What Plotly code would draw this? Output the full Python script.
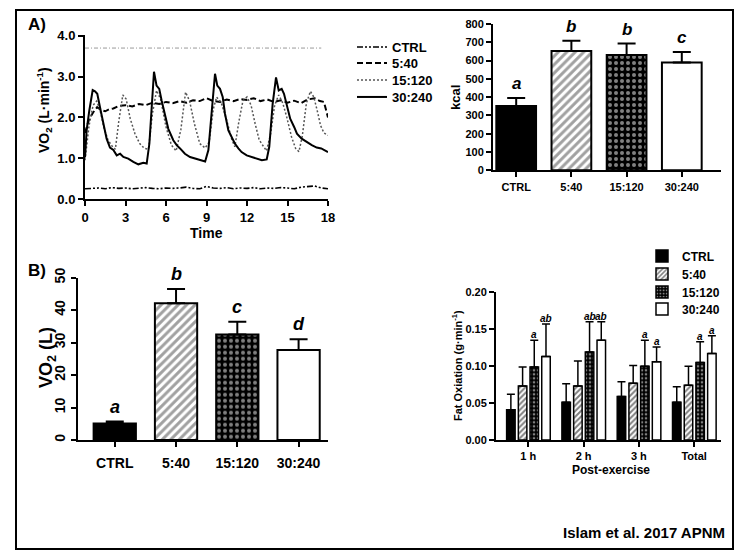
import plotly.graph_objects as go

W, H = 738, 560
FONT = "Liberation Sans"

# ---- Panel A (left): VO2 time course, L/min ----
time_ctrl = [0, 0.5, 1, 1.5, 2, 2.5, 3, 3.5, 4, 4.5, 5, 5.5, 6, 6.5, 7, 7.5, 8, 8.5, 9,
             9.5, 10, 10.5, 11, 11.5, 12, 12.5, 13, 13.5, 14, 14.5, 15, 15.5, 16, 16.5,
             17, 17.5, 18]
vo2_ctrl = [0.25, 0.26, 0.27, 0.25, 0.28, 0.26, 0.27, 0.25, 0.27, 0.28, 0.26, 0.25, 0.27,
            0.26, 0.27, 0.29, 0.26, 0.25, 0.31, 0.27, 0.26, 0.28, 0.25, 0.27, 0.26, 0.28,
            0.25, 0.27, 0.26, 0.28, 0.27, 0.25, 0.29, 0.30, 0.32, 0.27, 0.25]

time_5_40 = [0, 0.3, 0.6, 0.9, 1.2, 1.5, 1.8, 2.1, 2.5, 3.0, 3.5, 4.0, 4.5, 5.0, 5.5, 6.0,
             6.5, 7.0, 7.5, 8.0, 8.5, 9.0, 9.5, 10.0, 10.5, 11.0, 11.5, 12.0, 12.5, 13.0,
             13.5, 14.0, 14.5, 15.0, 15.5, 16.0, 16.5, 17.0, 17.4, 17.7, 18.0]
vo2_5_40 = [1.62, 1.95, 2.12, 2.25, 2.18, 2.15, 2.2, 2.22, 2.28, 2.3, 2.27, 2.33, 2.3, 2.36,
            2.33, 2.38, 2.35, 2.4, 2.36, 2.42, 2.4, 2.47, 2.4, 2.38, 2.44, 2.4, 2.45, 2.43,
            2.47, 2.4, 2.44, 2.38, 2.42, 2.36, 2.41, 2.35, 2.44, 2.47, 2.4, 2.38, 2.0]

time_15_120 = [0, 0.3, 0.6, 0.86, 1.1, 1.4, 1.7, 2.0, 2.25, 2.5, 2.8, 3.05, 3.35, 3.7, 4.05,
               4.4, 4.7, 5.0, 5.3, 5.6, 6.0, 6.4, 6.75, 7.1, 7.45, 7.75, 8.1, 8.5, 8.9, 9.2,
               9.5, 9.75, 10.1, 10.5, 10.85, 11.1, 11.4, 11.7, 12.0, 12.3, 12.6, 12.9, 13.2,
               13.45, 13.75, 14.05, 14.35, 14.65, 14.95, 15.3, 15.6, 15.85, 16.1, 16.4,
               16.7, 16.95, 17.2, 17.45, 17.7, 18.0]
vo2_15_120 = [0.95, 1.8, 2.3, 2.4, 2.2, 1.75, 1.45, 1.3, 1.22, 1.9, 2.55, 2.45, 1.97, 1.6,
              1.36, 1.24, 1.22, 2.1, 2.66, 2.45, 1.77, 1.32, 1.18, 1.7, 2.62, 2.4, 1.85,
              1.36, 1.25, 1.4, 2.2, 2.5, 2.35, 1.93, 1.48, 1.28, 1.9, 2.41, 2.5, 2.3, 1.85,
              1.45, 1.3, 1.18, 1.6, 2.3, 2.55, 2.35, 2.0, 1.52, 1.24, 1.16, 1.55, 2.35,
              2.64, 2.5, 2.17, 1.8, 1.62, 1.56]

time_30_240 = [0, 0.12, 0.32, 0.57, 0.74, 0.91, 1.11, 1.36, 1.6, 1.85, 2.1, 2.35, 2.6, 2.84,
               3.2, 3.58, 3.95, 4.32, 4.57, 4.77, 4.94, 5.11, 5.3, 5.5, 5.68, 5.93, 6.17,
               6.54, 6.79, 7.04, 7.4, 7.78, 8.15, 8.5, 8.9, 9.14, 9.38, 9.63, 9.8, 10.0,
               10.2, 10.37, 10.62, 10.86, 11.1, 11.36, 11.6, 11.98, 12.35, 12.7, 13.1,
               13.46, 13.65, 13.9, 14.15, 14.35, 14.57, 14.74, 14.99, 15.2, 15.5, 15.7,
               16.05, 16.4, 16.8, 17.16, 17.5, 18.0]
vo2_30_240 = [1.02, 1.68, 2.17, 2.67, 2.64, 2.58, 2.25, 1.85, 1.48, 1.26, 1.2, 1.07, 1.11,
              1.03, 0.99, 0.91, 0.85, 0.89, 0.87, 1.36, 2.41, 3.12, 2.78, 2.7, 2.41, 2.09,
              1.72, 1.44, 1.32, 1.24, 1.11, 1.03, 0.99, 0.97, 0.92, 1.2, 2.17, 3.07, 2.78,
              2.7, 2.5, 2.09, 1.68, 1.52, 1.36, 1.24, 1.15, 1.07, 1.03, 0.99, 0.95, 0.97,
              1.28, 2.33, 2.98, 2.66, 2.7, 2.58, 2.25, 1.97, 1.76, 1.6, 1.48, 1.4, 1.32,
              1.26, 1.24, 1.15]

vo2max_time = [0, 17.5]
vo2max_level = [3.7, 3.7]

# ---- bar panels ----
groups = ["CTRL", "5:40", "15:120", "30:240"]

kcal_mean = [351, 652, 630, 590]
kcal_err = [45, 56, 63, 57]
kcal_letters = ["a", "b", "b", "c"]

vo2_total_mean = [5.1, 42.1, 32.5, 27.7]
vo2_total_err = [0.6, 4.4, 3.9, 3.3]
vo2_total_letters = ["a", "b", "c", "d"]

fat_periods = ["1 h", "2 h", "3 h", "Total"]
fat_mean = {
    "CTRL": [0.041, 0.051, 0.059, 0.051],
    "5:40": [0.073, 0.073, 0.077, 0.074],
    "15:120": [0.099, 0.119, 0.100, 0.105],
    "30:240": [0.113, 0.135, 0.106, 0.117],
}
fat_err = {
    "CTRL": [0.021, 0.025, 0.020, 0.021],
    "5:40": [0.026, 0.034, 0.024, 0.026],
    "15:120": [0.036, 0.041, 0.035, 0.028],
    "30:240": [0.044, 0.025, 0.020, 0.024],
}
fat_letters = {
    "15:120": ["a", "ab", "a", "a"],
    "30:240": ["ab", "ab", "a", "a"],
}

# bar fills per group: (background, pattern shape, pattern colour, solidity)
fills = {"CTRL": ("black", "", "black", 0.3),
         "5:40": ("white", "/", "black", 0.5),
         "15:120": ("black", ".", "white", 0.35),
         "30:240": ("white", "", "black", 0.3)}

# one single-entry legend per row so the row pitch matches the figure
line_legends = ["legend", "legend3", "legend4", "legend5"]
line_rows = [47, 63, 80, 97]
bar_legends = ["legend2", "legend6", "legend7", "legend8"]
bar_rows = [256, 274, 292, 309]


def dom_x(p0, p1):
    return [p0 / W, p1 / W]


def dom_y(top, bottom):
    return [1 - bottom / H, 1 - top / H]


def bold(size):
    return dict(family=FONT, size=size, color="black", weight="bold")


def bar_marker(line_w, size):
    return dict(color=[fills[g][0] for g in groups], line=dict(color="black", width=line_w),
                pattern=dict(shape=[fills[g][1] for g in groups],
                             fgcolor=[fills[g][2] for g in groups],
                             bgcolor=[fills[g][0] for g in groups],
                             size=size, solidity=[fills[g][3] for g in groups]))


fig = go.Figure()

# VO2 time course
fig.add_trace(go.Scatter(x=vo2max_time, y=vo2max_level, mode="lines", showlegend=False,
                         line=dict(color="#9a9a9a", width=1, dash="4px,2px,1px,2px"),
                         hoverinfo="skip"))
line_styles = [
    ("CTRL", time_ctrl, vo2_ctrl, dict(color="black", width=1.6, dash="6px,2px,2px,2px,2px,2px")),
    ("5:40", time_5_40, vo2_5_40, dict(color="black", width=2, dash="6px,3px")),
    ("15:120", time_15_120, vo2_15_120, dict(color="#555555", width=1.5, dash="2px,2px")),
    ("30:240", time_30_240, vo2_30_240, dict(color="black", width=2)),
]
for (name, tx, ty, ln), lg in zip(line_styles, line_legends):
    fig.add_trace(go.Scatter(x=tx, y=ty, mode="lines", name=name, line=ln, legend=lg))

# kcal bars
fig.add_trace(go.Bar(
    x=groups, y=kcal_mean, width=0.72, showlegend=False, xaxis="x2", yaxis="y2",
    marker=bar_marker(2, 6),
    error_y=dict(type="data", symmetric=False, array=kcal_err, arrayminus=[0] * 4,
                 color="black", thickness=2, width=9),
))

# total VO2 bars
fig.add_trace(go.Bar(
    x=groups, y=vo2_total_mean, width=0.69, showlegend=False, xaxis="x3", yaxis="y3",
    marker=bar_marker(2, 6),
    error_y=dict(type="data", symmetric=False, array=vo2_total_err, arrayminus=[0] * 4,
                 color="black", thickness=2, width=9),
))

# fat oxidation grouped bars
bar_w = 0.154
bar_offsets = [-0.392, -0.180, 0.031, 0.243]
for g, off, lg in zip(groups, bar_offsets, bar_legends):
    bg, shape, fg, solid = fills[g]
    fig.add_trace(go.Bar(
        x=fat_periods, y=fat_mean[g], name=g, width=bar_w, offset=off,
        xaxis="x4", yaxis="y4", legend=lg,
        marker=dict(color=bg, line=dict(color="black", width=1.5),
                    pattern=dict(shape=shape, fgcolor=fg, bgcolor=bg, size=4, solidity=solid)),
        error_y=dict(type="data", symmetric=False, array=fat_err[g],
                     arrayminus=[0] * 4, color="black", thickness=1.5, width=4),
    ))

axis_common = dict(showline=True, linecolor="black", linewidth=2, ticks="outside",
                   tickcolor="black", tickwidth=2, ticklen=5, showgrid=False,
                   zeroline=False, mirror=False, fixedrange=True)

legends = {}
for lg, row in zip(line_legends, line_rows):
    legends[lg] = dict(x=352 / W, y=1 - row / H, xanchor="left", yanchor="middle",
                       font=bold(13), bgcolor="rgba(0,0,0,0)", itemwidth=30)
for lg, row in zip(bar_legends, bar_rows):
    legends[lg] = dict(x=642 / W, y=1 - row / H, xanchor="left", yanchor="middle",
                       font=bold(12), bgcolor="rgba(0,0,0,0)", itemwidth=30)

fig.update_layout(
    width=W, height=H, autosize=False,
    margin=dict(l=0, r=0, t=0, b=0, pad=0, autoexpand=False),
    paper_bgcolor="white", plot_bgcolor="white",
    font=dict(family=FONT, color="black"),
    barmode="group",
    xaxis=dict(**axis_common, domain=dom_x(85, 328), range=[0, 18], tickvals=[0, 3, 6, 9, 12, 15, 18],
               tickfont=bold(13), anchor="y"),
    yaxis=dict(**axis_common, domain=dom_y(35, 199), range=[0, 4.02], tickvals=[0, 1, 2, 3, 4],
               tickformat=".1f", tickfont=bold(13), anchor="x"),
    xaxis2=dict(**axis_common, domain=dom_x(493, 721), range=[-0.42, 3.71], type="category",
                tickfont=bold(11), anchor="y2"),
    yaxis2=dict(**axis_common, domain=dom_y(24, 170.3), range=[0, 800], dtick=100,
                tickfont=bold(11), anchor="x2"),
    xaxis3=dict(**axis_common, domain=dom_x(78, 328), range=[-0.6, 3.48], type="category",
                tickfont=bold(14), anchor="y3", ticklabelstandoff=4),
    yaxis3=dict(**axis_common, domain=dom_y(277.7, 440), range=[0, 50], dtick=10,
                tickfont=bold(14), tickangle=-90, anchor="x3"),
    xaxis4=dict(**axis_common, domain=dom_x(496, 721), range=[-0.584, 3.485], type="category",
                tickfont=bold(11), anchor="y4"),
    yaxis4=dict(**axis_common, domain=dom_y(292.3, 440), range=[0, 0.2], dtick=0.05,
                tickformat=".2f", tickfont=bold(11), anchor="x4"),
    shapes=[dict(type="rect", xref="paper", yref="paper", x0=16 / W, x1=733 / W,
                 y0=1 - 549 / H, y1=1 - 10 / H, line=dict(color="black", width=2))],
    **legends,
)

notes = [
    dict(text="A)", x=37, y=25, size=17),
    dict(text="B)", x=37, y=270, size=17),
    dict(text="Time", x=206, y=233, size=14),
    dict(text="Post-exercise", x=611, y=470, size=12),
    dict(text="VO<sub>2</sub> (L·min<sup>-1</sup>)", x=44, y=110, size=14, angle=-90),
    dict(text="kcal", x=455, y=98, size=13, angle=-90),
    dict(text="VO<sub>2</sub> (L)", x=47, y=358, size=18, angle=-90),
    dict(text="Fat Oxiation (g·min<sup>-1</sup>)", x=457, y=366, size=11, angle=-90),
]
annotations = []
for n in notes:
    annotations.append(dict(text=n["text"], xref="paper", yref="paper", x=n["x"] / W,
                            y=1 - n["y"] / H, showarrow=False, font=bold(n["size"]),
                            textangle=n.get("angle", 0), xanchor="center", yanchor="middle"))
annotations.append(dict(text="Islam et al. 2017 APNM", xref="paper", yref="paper",
                        x=727 / W, y=1 - 532 / H, xanchor="right", yanchor="middle",
                        showarrow=False, font=bold(15)))
annotations.append(dict(text="VO<sub>2max</sub> = 3.8 L·min<sup>-1</sup>", xref="x", yref="y",
                        x=18.1, y=vo2max_level[0], xanchor="right", yanchor="bottom",
                        yshift=1, showarrow=False, font=bold(8)))

letter_font = dict(family=FONT, color="black", weight="bold", style="italic")
for i, g in enumerate(groups):
    annotations.append(dict(text=kcal_letters[i], xref="x2", yref="y2", x=i,
                            y=kcal_mean[i] + kcal_err[i], yanchor="bottom", yshift=3,
                            showarrow=False, font=dict(letter_font, size=17)))
    annotations.append(dict(text=vo2_total_letters[i], xref="x3", yref="y3", x=i,
                            y=vo2_total_mean[i] + vo2_total_err[i], yanchor="bottom", yshift=3,
                            showarrow=False, font=dict(letter_font, size=18)))
for g, off in zip(groups, bar_offsets):
    if g not in fat_letters:
        continue
    for i, lab in enumerate(fat_letters[g]):
        annotations.append(dict(text=lab, xref="x4", yref="y4", x=i + off + bar_w / 2,
                                y=fat_mean[g][i] + fat_err[g][i], yanchor="bottom", yshift=-2,
                                showarrow=False, font=dict(letter_font, size=10)))

fig.update_layout(annotations=annotations)

fig.write_html("out.html", config={"displayModeBar": False},
               post_script="document.body.style.margin='0px';")
